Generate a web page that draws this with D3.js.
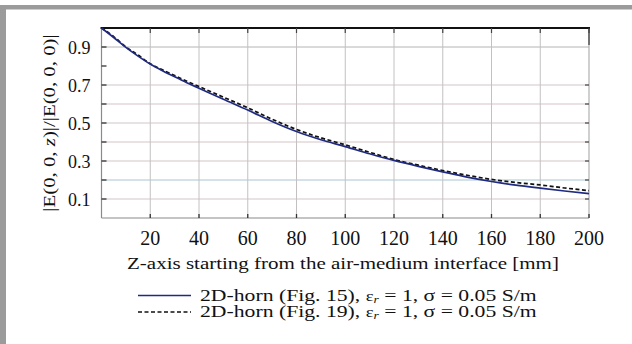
<!DOCTYPE html>
<html><head><meta charset="utf-8">
<script src="https://cdn.jsdelivr.net/npm/d3@7"></script>
<style>
html,body{margin:0;padding:0;background:#fff;}
</style></head>
<body><svg id="c" width="632" height="344" font-family="'Liberation Serif', Tinos, 'Times New Roman', Times, serif"></svg>
<script>
const zVals = [0,5,10,15,20,25,30,35,40,50,60,70,80,90,100,110,120,130,140,150,160,170,180,190,200];
const solidVals = [1.0,0.95,0.898,0.852,0.81,0.775,0.743,0.712,0.683,0.625,0.568,0.508,0.455,0.412,0.376,0.338,0.303,0.272,0.243,0.215,0.192,0.173,0.157,0.142,0.128];
const dashedVals = [1.0,0.955,0.9,0.858,0.812,0.78,0.75,0.72,0.692,0.636,0.58,0.52,0.466,0.422,0.385,0.346,0.308,0.278,0.25,0.225,0.203,0.187,0.174,0.158,0.144];
const xTicks = [20,40,60,80,100,120,140,160,180,200];
const yTicks = [0.1,0.3,0.5,0.7,0.9];
const yGrid = [0.1,0.2,0.3,0.4,0.5,0.6,0.7,0.9];
const yMinor = [0.1,0.2,0.3,0.4,0.5,0.6,0.7,0.8,0.9];
const legendLabels = ["2D-horn (Fig. 15), ", "2D-horn (Fig. 19), "];

const svg = d3.select("#c");
const L=101.5, R=589, T=28, B=218;
const x = d3.scaleLinear().domain([0,200]).range([L,R]);
const y = d3.scaleLinear().domain([0,1]).range([B,T]);

// frame
svg.append("rect").attr("x",0).attr("y",5).attr("width",632).attr("height",4.5).attr("fill","#9b9b9b");
svg.append("rect").attr("x",0).attr("y",5).attr("width",6).attr("height",339).attr("fill","#9b9b9b");

// grid
const gridColor = v => Math.abs(v-0.2)<1e-6 ? "#a8c6d2" : (Math.abs(v-0.9)<1e-6 ? "#b4b4b4" : "#d3c4c6");
svg.append("g").selectAll("line").data(yGrid).join("line")
  .attr("x1",L).attr("x2",R).attr("y1",d=>y(d)).attr("y2",d=>y(d))
  .attr("stroke",gridColor).attr("stroke-width",1);
svg.append("g").selectAll("line").data(xTicks.slice(0,-1)).join("line")
  .attr("x1",d=>x(d)).attr("x2",d=>x(d)).attr("y1",T).attr("y2",B)
  .attr("stroke","#c4c0c2").attr("stroke-width",1);

// axes frame
svg.append("line").attr("x1",L).attr("x2",L).attr("y1",T).attr("y2",B).attr("stroke","#8a8a8a").attr("stroke-width",1.2);
svg.append("line").attr("x1",L).attr("x2",R).attr("y1",B).attr("y2",B).attr("stroke","#8a8a8a").attr("stroke-width",1.2);
svg.append("line").attr("x1",R).attr("x2",R).attr("y1",T).attr("y2",B).attr("stroke","#b0b0b0").attr("stroke-width",1.2);
svg.append("line").attr("x1",R).attr("x2",R).attr("y1",T).attr("y2",T+17).attr("stroke","#555").attr("stroke-width",1.5);
svg.append("line").attr("x1",L-1).attr("x2",R+1).attr("y1",T).attr("y2",T).attr("stroke","#111").attr("stroke-width",2);

// ticks
svg.append("g").selectAll("line").data(yMinor).join("line")
  .attr("x1",L).attr("x2",L+5).attr("y1",d=>y(d)).attr("y2",d=>y(d)).attr("stroke","#333").attr("stroke-width",1.3);
svg.append("g").selectAll("line").data(yMinor.slice(0,7)).join("line")
  .attr("x1",R-4).attr("x2",R).attr("y1",d=>y(d)).attr("y2",d=>y(d)).attr("stroke","#444").attr("stroke-width",1.2);
svg.append("g").selectAll("line").data(xTicks).join("line")
  .attr("x1",d=>x(d)).attr("x2",d=>x(d)).attr("y1",B).attr("y2",B-4).attr("stroke","#333").attr("stroke-width",1.3);
svg.append("g").selectAll("line").data(xTicks).join("line")
  .attr("x1",d=>x(d)).attr("x2",d=>x(d)).attr("y1",T).attr("y2",T+5).attr("stroke","#444").attr("stroke-width",1.2);

// tick labels
svg.append("g").selectAll("text").data(yTicks).join("text")
  .attr("x",L-11).attr("y",d=>y(d)+6.5).attr("text-anchor","end").attr("font-size",18).attr("fill","#111")
  .text(d=>d3.format(".1f")(d));
svg.append("g").selectAll("text").data(xTicks).join("text")
  .attr("x",d=>x(d)).attr("y",245).attr("text-anchor","middle").attr("font-size",20).attr("fill","#111")
  .text(d=>d);

// axis titles (reference type is set slightly wide)
svg.append("text").attr("transform","translate(343,269) scale(1.2,1)").attr("text-anchor","middle").attr("font-size",17.5).attr("fill","#111")
  .text("Z-axis starting from the air-medium interface [mm]");
const yl = svg.append("text").attr("transform","translate(55,123) rotate(-90) scale(1.19,1)").attr("text-anchor","middle").attr("font-size",17.5).attr("fill","#111");
yl.append("tspan").text("|E(0, 0, ");
yl.append("tspan").attr("font-style","italic").text("z");
yl.append("tspan").text(")|/|E(0, 0, 0)|");

// lines
const line = d3.line().x((d,i)=>x(zVals[i])).y(d=>y(d)).curve(d3.curveMonotoneX);
svg.append("path").datum(dashedVals).attr("d",line).attr("fill","none").attr("stroke","#111").attr("stroke-width",1.7).attr("stroke-dasharray","4,2.5");
svg.append("path").datum(solidVals).attr("d",line).attr("fill","none").attr("stroke","#1f2a80").attr("stroke-width",1.7);

// legend
const lg = [{dash:null,color:"#1f2a80",y:295.5},{dash:"4,2.5",color:"#111",y:312}];
lg.forEach((d,i)=>{
  svg.append("line").attr("x1",138).attr("x2",191).attr("y1",d.y).attr("y2",d.y)
    .attr("stroke",d.color).attr("stroke-width",1.6).attr("stroke-dasharray",d.dash);
  const t = svg.append("text").attr("transform",`translate(200,${d.y+5}) scale(1.24,1)`).attr("font-size",17.5).attr("fill","#111");
  t.append("tspan").text(legendLabels[i]);
  t.append("tspan").attr("font-size",15).text("ε");
  t.append("tspan").attr("font-size",11).attr("font-style","italic").attr("dy",2).text("r");
  t.append("tspan").attr("dy",-2).text(" = 1, ");
  t.append("tspan").text("σ = 0.05 S/m");
});
</script></body></html>
